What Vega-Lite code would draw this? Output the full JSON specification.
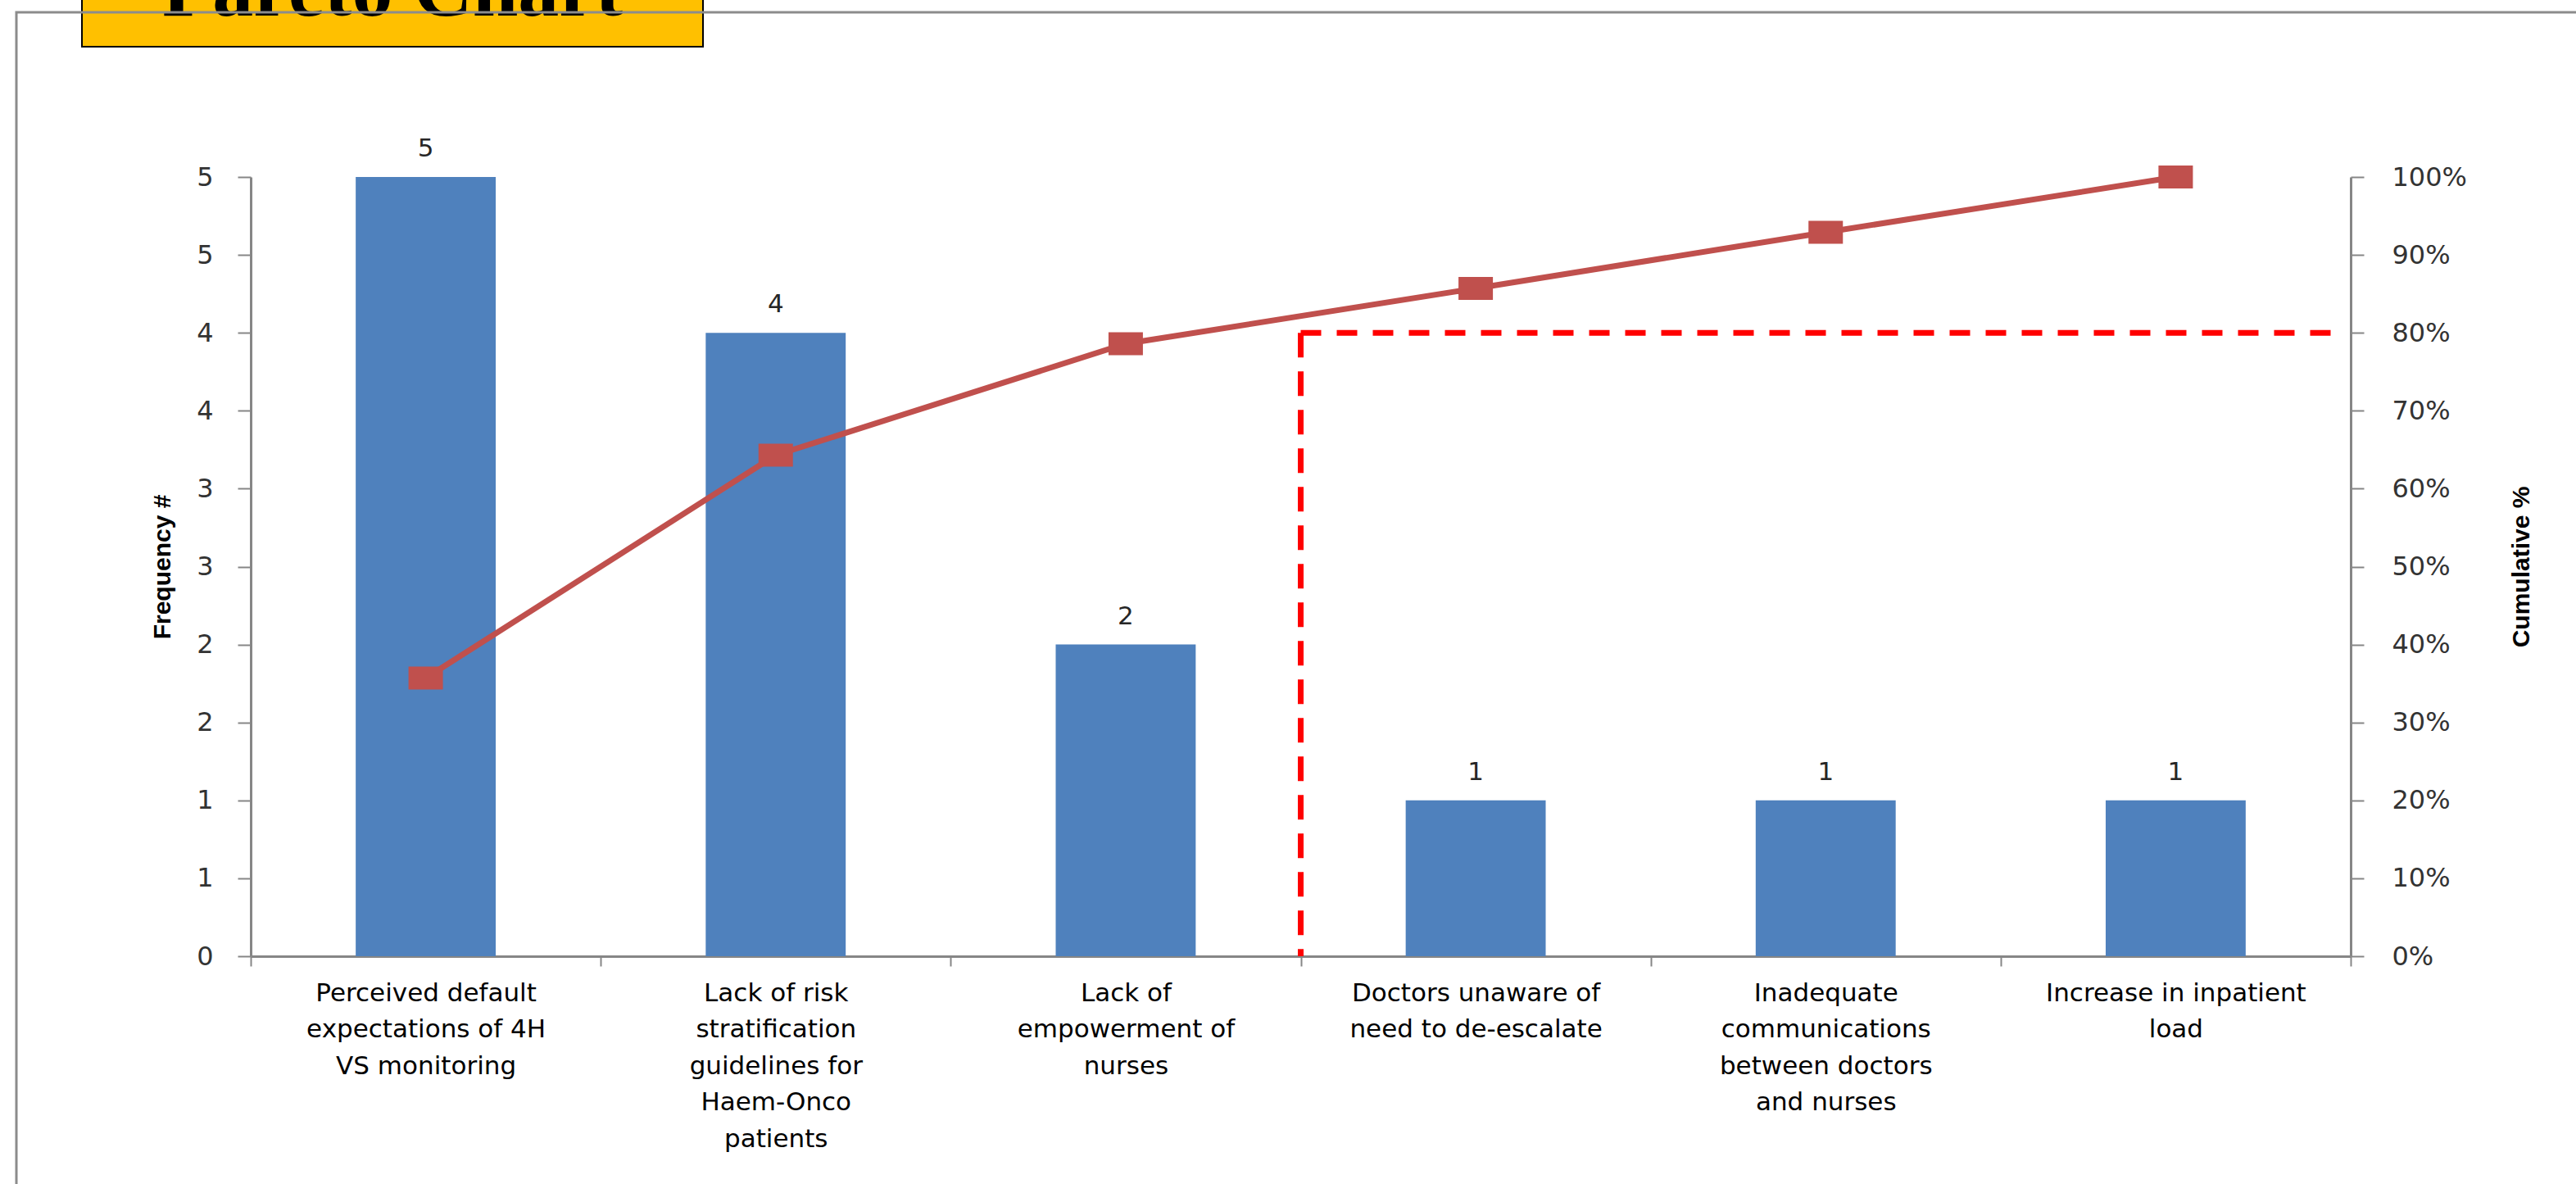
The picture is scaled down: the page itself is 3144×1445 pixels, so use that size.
{
  "$schema": "https://vega.github.io/schema/vega-lite/v6.json",
  "autosize": {"type": "none"},
  "width": 2563,
  "height": 951,
  "padding": {"left": 306, "top": 216, "right": 275, "bottom": 278},
  "background": "#ffffff",
  "datasets": {
    "causes": [
      {"cause": "Perceived default\nexpectations of 4H\nVS monitoring", "frequency": 5, "cumulative": 0.357},
      {"cause": "Lack of risk\nstratification\nguidelines for\nHaem-Onco\npatients", "frequency": 4, "cumulative": 0.643},
      {"cause": "Lack of\nempowerment of\nnurses", "frequency": 2, "cumulative": 0.786},
      {"cause": "Doctors unaware of\nneed to de-escalate", "frequency": 1, "cumulative": 0.857},
      {"cause": "Inadequate\ncommunications\nbetween doctors\nand nurses", "frequency": 1, "cumulative": 0.929},
      {"cause": "Increase in inpatient\nload", "frequency": 1, "cumulative": 1.0}
    ],
    "cutoff": [
      {"cause": "Doctors unaware of\nneed to de-escalate", "share": 0.8}
    ]
  },
  "layer": [
    {
      "data": {"name": "causes"},
      "layer": [
        {
          "mark": {"type": "bar", "width": {"band": 0.4}},
          "encoding": {
            "x": {
              "field": "cause", "type": "nominal", "sort": null,
              "scale": {"paddingInner": 0, "paddingOuter": 0},
              "axis": {
                "title": null, "tickBand": "extent", "tickSize": 12, "labelPadding": 18,
                "labelFontSize": 31, "labelLineHeight": 44.5, "labelAngle": 0, "labelColor": "#000000",
                "labelLimit": 2000, "labelOverlap": false,
                "labelExpr": "split(datum.label, '\\n')"
              }
            },
            "y": {
              "field": "frequency", "type": "quantitative",
              "scale": {"domain": [0, 5], "nice": false},
              "axis": {
                "title": "Frequency #", "orient": "left",
                "values": [0, 0.5, 1, 1.5, 2, 2.5, 3, 3.5, 4, 4.5, 5],
                "labelExpr": "'' + round(datum.value)",
                "tickSize": 16, "labelPadding": 30, "labelFontSize": 32,
                "titleFontSize": 30, "titlePadding": 26
              }
            },
            "color": {
              "datum": "Frequency #",
              "scale": {"range": ["#4F81BD"]},
              "legend": {
                "title": "Pareto Chart", "orient": "none", "legendX": -206, "legendY": -288,
                "padding": 12, "fillColor": "#FFC000", "strokeColor": "#000000",
                "titleFont": "Liberation Serif", "titleFontSize": 100, "titleFontWeight": "bold",
                "titleColor": "#000000", "titleOrient": "top", "titleAnchor": "middle", "titleAlign": "center",
                "titleBaseline": "top", "titlePadding": 0, "titleLimit": 3000,
                "symbolSize": 0, "symbolOpacity": 0, "symbolStrokeWidth": 0,
                "labelFontSize": 0, "labelOpacity": 0, "labelExpr": "''", "labelOffset": 724, "rowPadding": 0,
                "encode": {"legend": {"update": {"strokeWidth": {"value": 2}}}}
              }
            }
          }
        },
        {
          "mark": {"type": "text", "baseline": "alphabetic", "dy": -25, "font": "DejaVu Sans", "fontSize": 31, "color": "#262626"},
          "encoding": {
            "x": {"field": "cause", "type": "nominal", "sort": null},
            "y": {"field": "frequency", "type": "quantitative", "title": "Frequency #"},
            "text": {"field": "frequency", "type": "quantitative"}
          }
        }
      ]
    },
    {
      "layer": [
        {
          "data": {"name": "causes"},
          "mark": {"type": "line", "color": "#C0504D", "strokeWidth": 7},
          "encoding": {
            "x": {"field": "cause", "type": "nominal", "sort": null},
            "y": {
              "field": "cumulative", "type": "quantitative",
              "scale": {"domain": [0, 1], "nice": false},
              "axis": {
                "title": "Cumulative %", "orient": "right",
                "values": [0, 0.1, 0.2, 0.3, 0.4, 0.5, 0.6, 0.7, 0.8, 0.9, 1],
                "format": ".0%", "tickSize": 16, "labelPadding": 34, "labelFontSize": 32,
                "titleFontSize": 30, "titleAngle": -90, "titleBaseline": "top", "titlePadding": 52
              }
            }
          }
        },
        {
          "data": {"name": "causes"},
          "mark": {"type": "point", "filled": true, "opacity": 1, "color": "#C0504D", "size": 1764},
          "encoding": {
            "x": {"field": "cause", "type": "nominal", "sort": null},
            "y": {"field": "cumulative", "type": "quantitative", "title": "Cumulative %"},
            "shape": {
              "datum": "Cumulative %",
              "scale": {"range": ["M-1,-0.667H1V0.667H-1Z"]},
              "legend": {
                "title": null, "orient": "none", "legendX": -286, "legendY": -201,
                "padding": 1700, "strokeColor": "#8C8C8C",
                "symbolSize": 0, "symbolOpacity": 0, "symbolStrokeWidth": 0,
                "labelFontSize": 0, "labelOpacity": 0, "labelExpr": "''", "labelOffset": 0, "rowPadding": 0,
                "encode": {"legend": {"update": {"strokeWidth": {"value": 3}}}}
              }
            }
          }
        },
        {
          "data": {"name": "cutoff"},
          "mark": {"type": "rule", "color": "#FF0000", "strokeWidth": 7, "strokeDash": [30, 17]},
          "encoding": {
            "x": {"field": "cause", "type": "nominal", "sort": null, "bandPosition": 0},
            "y": {"field": "share", "type": "quantitative", "title": "Cumulative %"},
            "y2": {"datum": 0}
          }
        },
        {
          "data": {"name": "cutoff"},
          "mark": {"type": "rule", "color": "#FF0000", "strokeWidth": 7, "strokeDash": [25, 19]},
          "encoding": {
            "x": {"field": "cause", "type": "nominal", "sort": null, "bandPosition": 0},
            "x2": {"datum": "Increase in inpatient\nload", "bandPosition": 0.972},
            "y": {"field": "share", "type": "quantitative", "title": "Cumulative %"}
          }
        }
      ]
    }
  ],
  "resolve": {"scale": {"y": "independent"}},
  "config": {
    "view": {"stroke": null},
    "legend": {"strokeWidth": 3},
    "axis": {
      "domainColor": "#868686", "domainWidth": 3, "tickColor": "#868686", "tickWidth": 2,
      "grid": false, "labelFont": "DejaVu Sans", "labelColor": "#333333",
      "titleFont": "Liberation Sans", "titleFontWeight": "bold", "titleColor": "#000000"
    }
  }
}
